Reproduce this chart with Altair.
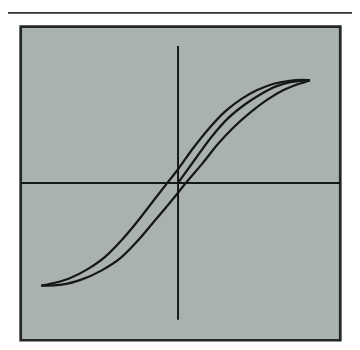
import altair as alt
import pandas as pd

# Hysteresis loop (origin at the axis crossing, 1 unit ~ 1 px)
upper_x = [135, 128, 111, 98, 81, 65, 48, 31, 15, 0, -11, -25, -42, -59, -75, -92, -112, -132, -140]
upper_y = [105, 105.5, 104, 101.5, 95, 86, 73, 55, 35, 14, 0, -18, -40, -60, -76, -88, -98, -103.5, -105]

lower_x = [-140, -135, -119, -99, -79, -59, -42, -25, -9, 0, 8, 25, 41, 58, 75, 91, 108, 121, 131, 135]
lower_y = [-105, -105, -104, -99, -90, -77, -60, -40, -21, -10, 0, 20, 40, 58, 73, 85, 95, 100.5, 103.5, 105]

virgin_x = [0, 5, 18, 35, 51, 68, 85, 101, 115, 135]
virgin_y = [0, 7, 25, 48, 66, 80, 91, 99, 103, 105]

x_domain = [-161, 166]
y_domain = [-161, 160]

rows = []
for name, xs, ys in [("upper", upper_x, upper_y), ("lower", lower_x, lower_y), ("virgin", virgin_x, virgin_y)]:
    for i, (a, b) in enumerate(zip(xs, ys)):
        rows.append({"series": name, "i": i, "H": a, "B": b})
curves = pd.DataFrame(rows)

xs = alt.Scale(domain=x_domain, nice=False, zero=False)
ys = alt.Scale(domain=y_domain, nice=False, zero=False)

ink = "#161817"

lines = alt.Chart(curves).mark_line(color=ink, strokeWidth=2.3, interpolate="monotone").encode(
    x=alt.X("H:Q", scale=xs, axis=None),
    y=alt.Y("B:Q", scale=ys, axis=None),
    detail="series:N",
    order="i:Q",
)

vaxis = alt.Chart(pd.DataFrame({"x": [0], "y": [-140], "y2": [140]})).mark_rule(color=ink, strokeWidth=2).encode(
    x=alt.X("x:Q", scale=xs, axis=None),
    y=alt.Y("y:Q", scale=ys, axis=None),
    y2="y2:Q",
)
haxis = alt.Chart(pd.DataFrame({"y": [0], "x": [x_domain[0]], "x2": [x_domain[1]]})).mark_rule(color=ink, strokeWidth=2).encode(
    y=alt.Y("y:Q", scale=ys, axis=None),
    x=alt.X("x:Q", scale=xs, axis=None),
    x2="x2:Q",
)

frame_color = "#2e3532"
top_edge = alt.Chart(pd.DataFrame({"a": [0]})).mark_rule(color=frame_color, strokeWidth=2).encode(
    x=alt.value(-17), x2=alt.value(340), y=alt.value(-14)
)

chart = alt.layer(haxis, vaxis, lines, top_edge).properties(
    width=327,
    height=321,
    padding={"left": 13, "top": 15, "right": 12, "bottom": 6},
    autosize=alt.AutoSizeParams(type="none"),
    background="#ffffff",
).configure_view(
    fill="#a9b2ae",
    stroke="#23272a",
    strokeWidth=2.8,
)

chart.save("out.html", embed_options={"renderer": "svg", "actions": False})
